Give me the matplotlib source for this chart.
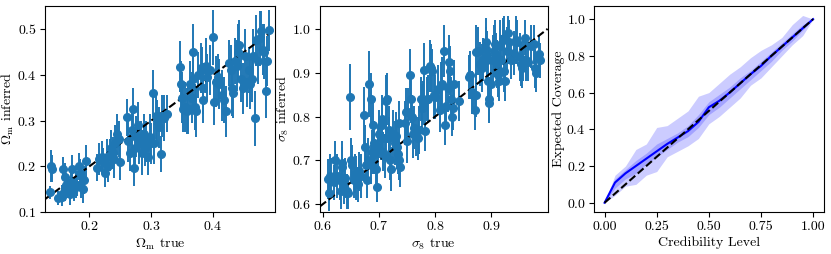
import matplotlib
matplotlib.use("Agg")
import matplotlib.pyplot as plt
import numpy as np

plt.rcParams["font.family"] = "serif"
plt.rcParams["font.serif"] = ["cmr10", "DejaVu Serif"]
plt.rcParams["mathtext.fontset"] = "cm"
plt.rcParams["axes.formatter.use_mathtext"] = True
plt.rcParams["font.size"] = 10
plt.rcParams["xtick.major.pad"] = 2.5
plt.rcParams["ytick.major.pad"] = 2.5

# --- Omega_m: true vs inferred ---
om_true = [0.137, 0.138, 0.139, 0.150, 0.155, 0.158, 0.160, 0.162, 0.165, 0.168,
           0.170, 0.172, 0.175, 0.178, 0.180, 0.183, 0.185, 0.187, 0.190, 0.191,
           0.195, 0.160, 0.156,
           0.213, 0.215, 0.220, 0.222, 0.225, 0.228, 0.230, 0.235, 0.238, 0.240,
           0.242, 0.245, 0.248, 0.250, 0.233,
           0.260, 0.262, 0.265, 0.268, 0.270, 0.272, 0.273, 0.275, 0.278, 0.280,
           0.283, 0.285, 0.288, 0.290, 0.292, 0.295, 0.298, 0.300, 0.303, 0.305,
           0.308, 0.310, 0.312, 0.315, 0.318, 0.320, 0.325,
           0.347, 0.348, 0.350, 0.352, 0.355, 0.358, 0.360, 0.362, 0.365, 0.367,
           0.368, 0.370, 0.372, 0.375, 0.380, 0.382, 0.383, 0.384, 0.388, 0.390,
           0.395, 0.400, 0.402, 0.405, 0.408, 0.410,
           0.415, 0.418, 0.420, 0.425, 0.428, 0.430, 0.432, 0.435, 0.438, 0.440,
           0.442, 0.445, 0.448, 0.452, 0.455, 0.458, 0.460, 0.462, 0.465, 0.468,
           0.470, 0.472, 0.475, 0.477, 0.480, 0.482, 0.485, 0.487, 0.490]
om_inf = [0.143, 0.200, 0.195, 0.130, 0.133, 0.195, 0.177, 0.160, 0.150, 0.140,
          0.165, 0.195, 0.150, 0.160, 0.160, 0.200, 0.185, 0.155, 0.150, 0.170,
          0.212, 0.145, 0.140,
          0.197, 0.215, 0.220, 0.210, 0.185, 0.220, 0.200, 0.240, 0.230, 0.215,
          0.250, 0.270, 0.260, 0.210, 0.225,
          0.307, 0.255, 0.230, 0.280, 0.325, 0.196, 0.240, 0.265, 0.290, 0.250,
          0.260, 0.230, 0.270, 0.240, 0.255, 0.220, 0.265, 0.250, 0.360, 0.250,
          0.310, 0.300, 0.285, 0.227, 0.310, 0.305, 0.315,
          0.418, 0.380, 0.350, 0.325, 0.330, 0.320, 0.325, 0.380, 0.350, 0.450,
          0.390, 0.330, 0.320, 0.400, 0.415, 0.410, 0.370, 0.345, 0.420, 0.395,
          0.410, 0.482, 0.340, 0.385, 0.395, 0.380,
          0.355, 0.345, 0.320, 0.425, 0.410, 0.370, 0.360, 0.430, 0.420, 0.450,
          0.465, 0.390, 0.370, 0.440, 0.385, 0.410, 0.380, 0.390, 0.440, 0.305,
          0.475, 0.430, 0.480, 0.495, 0.455, 0.450, 0.365, 0.430, 0.497]
om_err = [0.015, 0.035, 0.030, 0.015, 0.020, 0.025, 0.030, 0.025, 0.020, 0.025,
          0.030, 0.030, 0.025, 0.030, 0.025, 0.030, 0.030, 0.025, 0.030, 0.030,
          0.035, 0.020, 0.020,
          0.030, 0.035, 0.035, 0.030, 0.030, 0.040, 0.035, 0.040, 0.035, 0.040,
          0.040, 0.045, 0.040, 0.040, 0.035,
          0.040, 0.045, 0.040, 0.050, 0.045, 0.040, 0.045, 0.045, 0.050, 0.045,
          0.040, 0.050, 0.045, 0.040, 0.045, 0.040, 0.050, 0.045, 0.050, 0.045,
          0.050, 0.045, 0.045, 0.040, 0.045, 0.050, 0.040,
          0.055, 0.050, 0.055, 0.050, 0.055, 0.050, 0.055, 0.050, 0.055, 0.060,
          0.055, 0.050, 0.055, 0.050, 0.055, 0.050, 0.055, 0.050, 0.060, 0.050,
          0.055, 0.060, 0.050, 0.055, 0.050, 0.055,
          0.055, 0.050, 0.055, 0.050, 0.055, 0.060, 0.055, 0.050, 0.055, 0.060,
          0.055, 0.050, 0.055, 0.060, 0.055, 0.050, 0.055, 0.050, 0.060, 0.060,
          0.055, 0.050, 0.060, 0.045, 0.055, 0.060, 0.060, 0.055, 0.045]

# --- sigma_8: true vs inferred ---
s8_true = [0.610, 0.612, 0.613, 0.615, 0.620, 0.622, 0.625, 0.630, 0.632, 0.634,
           0.635, 0.638, 0.640, 0.643, 0.645, 0.648, 0.650, 0.652, 0.655, 0.658,
           0.660, 0.662, 0.665, 0.668,
           0.673, 0.675, 0.677, 0.678, 0.680, 0.683, 0.685, 0.686, 0.688, 0.690,
           0.691, 0.692, 0.695, 0.697, 0.698, 0.700, 0.703, 0.705, 0.706, 0.708,
           0.710, 0.712, 0.713, 0.715, 0.717, 0.718, 0.720, 0.722, 0.725, 0.728,
           0.730, 0.732, 0.733, 0.735, 0.736, 0.737,
           0.747, 0.748, 0.750, 0.752, 0.755, 0.757, 0.758, 0.760, 0.763, 0.765,
           0.770, 0.772, 0.775, 0.777, 0.778, 0.780, 0.782, 0.785, 0.787, 0.790,
           0.793, 0.795, 0.797, 0.800,
           0.805, 0.808, 0.810, 0.813, 0.815, 0.817, 0.820, 0.823, 0.825, 0.826,
           0.828, 0.830, 0.832, 0.834, 0.842,
           0.860, 0.862, 0.865, 0.868, 0.870, 0.872, 0.873, 0.876, 0.880, 0.883,
           0.885, 0.890, 0.891, 0.892, 0.893, 0.894, 0.895, 0.896, 0.900,
           0.903, 0.905, 0.907, 0.908, 0.910, 0.912, 0.913, 0.915, 0.917, 0.920,
           0.922, 0.923, 0.925, 0.927, 0.930, 0.932, 0.934, 0.940, 0.943, 0.946,
           0.950, 0.952, 0.955, 0.957, 0.960, 0.962, 0.965, 0.970, 0.975, 0.978,
           0.980, 0.985, 0.986]
s8_inf = [0.657, 0.625, 0.665, 0.660, 0.650, 0.700, 0.665, 0.655, 0.630, 0.685,
          0.695, 0.640, 0.660, 0.630, 0.625, 0.845, 0.700, 0.690, 0.655, 0.670,
          0.660, 0.645, 0.675, 0.665,
          0.803, 0.730, 0.690, 0.655, 0.700, 0.875, 0.840, 0.690, 0.720, 0.780,
          0.740, 0.715, 0.680, 0.640, 0.730, 0.760, 0.750, 0.795, 0.780, 0.720,
          0.710, 0.835, 0.750, 0.840, 0.770, 0.750, 0.700, 0.680, 0.760, 0.740,
          0.755, 0.730, 0.715, 0.785, 0.700, 0.685,
          0.785, 0.810, 0.745, 0.810, 0.895, 0.840, 0.800, 0.760, 0.775, 0.755,
          0.750, 0.770, 0.840, 0.820, 0.830, 0.907, 0.767, 0.840, 0.840, 0.915,
          0.910, 0.905, 0.850, 0.845,
          0.862, 0.815, 0.870, 0.875, 0.950, 0.780, 0.825, 0.865, 0.925, 0.905,
          0.840, 0.800, 0.820, 0.875, 0.835,
          0.890, 0.895, 0.855, 0.850, 0.815, 0.850, 0.948, 0.950, 0.920, 0.910,
          0.930, 0.970, 0.955, 0.940, 0.930, 0.880, 0.840, 0.830, 0.875,
          0.930, 0.950, 0.965, 0.940, 0.920, 0.895, 0.880, 0.960, 0.930, 0.975,
          0.980, 0.905, 0.880, 0.950, 0.990, 0.970, 0.930, 0.945, 0.975, 0.970,
          0.935, 0.920, 0.910, 0.930, 0.980, 0.930, 0.925, 0.960, 0.965, 0.910,
          0.900, 0.943, 0.928]
s8_err = [0.045, 0.040, 0.050, 0.045, 0.040, 0.045, 0.050, 0.045, 0.040, 0.045,
          0.050, 0.040, 0.045, 0.040, 0.035, 0.075, 0.050, 0.045, 0.040, 0.045,
          0.050, 0.040, 0.045, 0.050,
          0.065, 0.050, 0.045, 0.040, 0.050, 0.075, 0.060, 0.045, 0.050, 0.055,
          0.050, 0.045, 0.050, 0.035, 0.050, 0.055, 0.050, 0.055, 0.050, 0.045,
          0.050, 0.060, 0.050, 0.060, 0.055, 0.050, 0.045, 0.050, 0.055, 0.050,
          0.055, 0.050, 0.045, 0.050, 0.045, 0.045,
          0.050, 0.055, 0.050, 0.055, 0.060, 0.055, 0.050, 0.055, 0.050, 0.045,
          0.050, 0.055, 0.050, 0.055, 0.050, 0.060, 0.045, 0.050, 0.055, 0.060,
          0.055, 0.050, 0.055, 0.050,
          0.055, 0.050, 0.055, 0.060, 0.060, 0.045, 0.050, 0.055, 0.060, 0.055,
          0.050, 0.045, 0.050, 0.055, 0.045,
          0.050, 0.055, 0.050, 0.045, 0.045, 0.050, 0.060, 0.055, 0.050, 0.055,
          0.050, 0.055, 0.050, 0.055, 0.050, 0.055, 0.050, 0.045, 0.050,
          0.055, 0.060, 0.055, 0.050, 0.055, 0.050, 0.045, 0.060, 0.055, 0.050,
          0.050, 0.050, 0.045, 0.055, 0.040, 0.050, 0.045, 0.050, 0.055, 0.050,
          0.055, 0.050, 0.045, 0.050, 0.040, 0.050, 0.045, 0.050, 0.045, 0.045,
          0.045, 0.040, 0.040]

# --- coverage test ---
cred = [0.00, 0.05, 0.10, 0.15, 0.20, 0.25, 0.30, 0.35, 0.40, 0.45, 0.50,
        0.55, 0.60, 0.65, 0.70, 0.75, 0.80, 0.85, 0.90, 0.95, 1.00]
cov_mean = [0.00, 0.11, 0.16, 0.20, 0.24, 0.28, 0.32, 0.355, 0.39, 0.44, 0.52,
            0.555, 0.60, 0.65, 0.70, 0.745, 0.80, 0.85, 0.90, 0.95, 1.00]
cov_lo1 = [0.00, 0.08, 0.13, 0.16, 0.21, 0.25, 0.29, 0.33, 0.36, 0.41, 0.48,
           0.52, 0.57, 0.62, 0.67, 0.72, 0.77, 0.83, 0.88, 0.94, 1.00]
cov_hi1 = [0.00, 0.13, 0.18, 0.23, 0.27, 0.32, 0.35, 0.38, 0.42, 0.48, 0.55,
           0.59, 0.63, 0.68, 0.72, 0.77, 0.82, 0.87, 0.92, 0.97, 1.00]
cov_lo2 = [0.00, 0.04, 0.09, 0.10, 0.15, 0.17, 0.25, 0.28, 0.31, 0.35, 0.43,
           0.47, 0.52, 0.57, 0.64, 0.68, 0.74, 0.80, 0.86, 0.91, 1.00]
cov_hi2 = [0.00, 0.15, 0.20, 0.29, 0.32, 0.41, 0.42, 0.46, 0.50, 0.58, 0.60,
           0.65, 0.70, 0.74, 0.79, 0.83, 0.86, 0.90, 0.97, 1.02, 1.00]

fig = plt.figure(figsize=(8.31, 2.54), dpi=100)
ax1 = fig.add_axes([0.054, 0.165, 0.277, 0.811])
ax2 = fig.add_axes([0.385, 0.165, 0.274, 0.811])
ax3 = fig.add_axes([0.715, 0.165, 0.276, 0.811])

ax1.errorbar(om_true, om_inf, yerr=om_err, fmt="o", color="C0", ms=5.5, elinewidth=1.4)
ax1.plot([0.128, 0.5], [0.128, 0.5], "k--")
ax1.set_xlim(0.128, 0.5)
ax1.set_ylim(0.1, 0.55)
ax1.set_xticks([0.2, 0.3, 0.4])
ax1.set_yticks([0.1, 0.2, 0.3, 0.4, 0.5])
ax1.set_xlabel(r"$\Omega_{\rm m}$ true")
ax1.set_ylabel(r"$\Omega_{\rm m}$ inferred")

ax2.errorbar(s8_true, s8_inf, yerr=s8_err, fmt="o", color="C0", ms=5.5, elinewidth=1.4)
ax2.plot([0.595, 1.0], [0.595, 1.0], "k--")
ax2.set_xlim(0.595, 1.0)
ax2.set_ylim(0.582, 1.052)
ax2.set_xticks([0.6, 0.7, 0.8, 0.9])
ax2.set_yticks([0.6, 0.7, 0.8, 0.9, 1.0])
ax2.set_xlabel(r"$\sigma_8$ true")
ax2.set_ylabel(r"$\sigma_8$ inferred")

ax3.fill_between(cred, cov_lo2, cov_hi2, color="blue", alpha=0.2, lw=0)
ax3.fill_between(cred, cov_lo1, cov_hi1, color="blue", alpha=0.2, lw=0)
ax3.plot(cred, cov_mean, color="blue", lw=1.5)
ax3.plot([0, 1], [0, 1], "k--")
ax3.set_xticks([0.0, 0.25, 0.5, 0.75, 1.0])
ax3.set_xticklabels(["0.00", "0.25", "0.50", "0.75", "1.00"])
ax3.set_yticks([0.0, 0.2, 0.4, 0.6, 0.8, 1.0])
ax3.set_xlabel("Credibility Level")
ax3.set_ylabel("Expected Coverage")

# label placement as in the reference
for ax, yx in ((ax1, -0.125), (ax2, -0.127), (ax3, -0.126)):
    ax.yaxis.set_label_coords(yx, 0.5)
    ax.xaxis.set_label_coords(0.5, -0.12)

fig.savefig("out.png", dpi=100)
